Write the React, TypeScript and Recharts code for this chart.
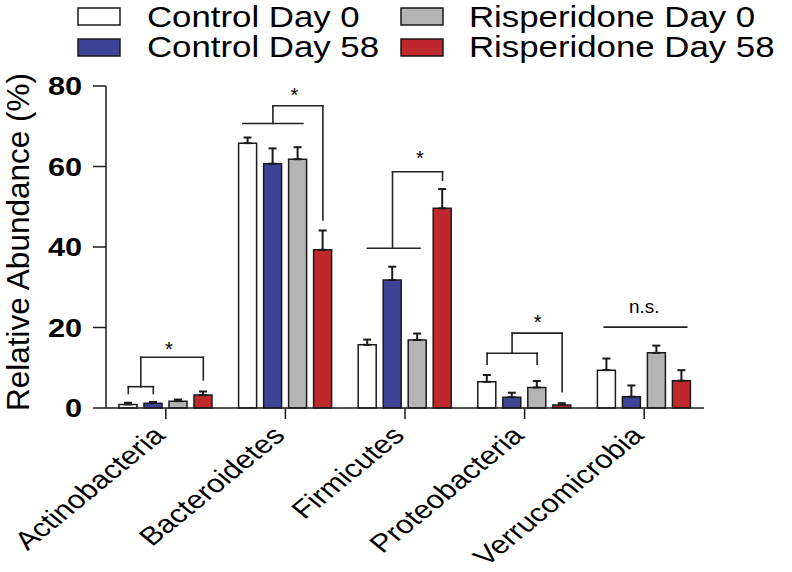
import React from 'react';
import { BarChart, Bar, XAxis, YAxis, ErrorBar, Legend, ReferenceLine, ReferenceDot, Label } from 'recharts';

const categories = ['Actinobacteria', 'Bacteroidetes', 'Firmicutes', 'Proteobacteria', 'Verrucomicrobia'];
const yTicks = [0, 20, 40, 60, 80];

const controlDay0 = [0.9, 65.8, 15.7, 6.5, 9.4];
const controlDay0Err = [0.4, 1.4, 1.3, 1.7, 2.9];
const controlDay58 = [1.2, 60.7, 31.8, 2.7, 2.8];
const controlDay58Err = [0.3, 3.8, 3.3, 1.1, 2.8];
const rispDay0 = [1.7, 61.8, 16.9, 5.1, 13.7];
const rispDay0Err = [0.4, 3.0, 1.6, 1.6, 1.8];
const rispDay58 = [3.2, 39.3, 49.6, 0.75, 6.8];
const rispDay58Err = [0.9, 4.8, 4.8, 0.45, 2.6];

// significance brackets: points are [bar position in group, value]
const brackets = [
    { cat: 0, path: [[0, 3.6], [0, 5.3], [1, 5.3], [1, 3.6]] },
    { cat: 0, path: [[0.5, 5.3], [0.5, 12.6], [3, 12.6], [3, 7.0]] },
    { cat: 1, path: [[-0.2, 70.7], [2.2, 70.7]] },
    { cat: 1, path: [[1, 70.7], [1, 75.1], [3, 75.1], [3, 46.7]] },
    { cat: 2, path: [[0, 39.7], [2.1, 39.7]] },
    { cat: 2, path: [[1, 39.7], [1, 58.7], [3, 58.7], [3, 56.6]] },
    { cat: 3, path: [[0, 10.9], [0, 13.6], [2, 13.6], [2, 10.9]] },
    { cat: 3, path: [[1, 13.6], [1, 18.6], [3, 18.6], [3, 4.05]] },
    { cat: 4, path: [[-0.1, 20.1], [3.2, 20.1]] },
];
const marks = [
    { cat: 0, pos: 1.62, y: 15.9, text: '*' },
    { cat: 1, pos: 1.86, y: 78.8, text: '*' },
    { cat: 2, pos: 2.1, y: 63.3, text: '*' },
    { cat: 3, pos: 2.02, y: 22.4, text: '*' },
    { cat: 4, pos: 1.5, y: 23.5, text: 'n.s.' },
];

const series = [
    { key: 'c0', name: 'Control Day 0', fill: '#ffffff' },
    { key: 'c58', name: 'Control Day 58', fill: '#3c4397' },
    { key: 'r0', name: 'Risperidone Day 0', fill: '#b4b4b4' },
    { key: 'r58', name: 'Risperidone Day 58', fill: '#c0292b' },
];

const data = categories.map((name, i) => ({
    name,
    c0: controlDay0[i], c0e: [0, controlDay0Err[i]],
    c58: controlDay58[i], c58e: [0, controlDay58Err[i]],
    r0: rispDay0[i], r0e: [0, rispDay0Err[i]],
    r58: rispDay58[i], r58e: [0, rispDay58Err[i]],
}));

const W = 792;
const H = 572;
const LEFT = 106;
const RIGHT = 88;
const BAR = 18;
const GAP = 7;
// pixel offset of a bar position from its category centre
const dx = (pos: number) => (pos - 1.5) * (BAR + GAP);

const FONT = '"Liberation Sans", Arial, sans-serif';
const STRETCH = 1.18;
const INK = '#1a1a1a';

const YTick = ({ x, y, payload }: any) => (
    <text transform={`translate(${x},${y}) scale(${STRETCH},1)`} textAnchor="end" dy="0.36em"
        fontFamily={FONT} fontWeight="bold" fontSize={26} fill="#000">
        {payload.value}
    </text>
);

const XTick = ({ x, y, payload }: any) => (
    <text transform={`translate(${x + 1},${y + 16}) scale(1.22,1) rotate(-45)`} textAnchor="end"
        fontFamily={FONT} fontSize={25.5} fill="#000">
        {payload.value}
    </text>
);

const LegendBox = () => {
    const cols = [[78, 147], [401, 469]];
    return (
        <svg width={W} height={70} style={{ display: 'block' }}>
            {series.map((s, i) => {
                const col = cols[Math.floor(i / 2)];
                const row = i % 2;
                return (
                    <g key={s.key}>
                        <rect x={col[0]} y={8 + row * 31} width={42} height={17} fill={s.fill} stroke={INK} strokeWidth={1.5} />
                        <text transform={`translate(${col[1]},${27 + row * 30}) scale(1.2,1)`} fontFamily={FONT} fontSize={29} fill="#000">
                            {s.name}
                        </text>
                    </g>
                );
            })}
        </svg>
    );
};

export default function App() {
    return (
        <div style={{ position: 'absolute', left: 0, top: 0, background: '#fff' }}>
            <BarChart width={W} height={H} data={data} margin={{ top: 16, right: RIGHT, left: 0, bottom: 0 }}
                barSize={BAR} barGap={GAP}>
                <Legend verticalAlign="top" content={() => <LegendBox />}
                    wrapperStyle={{ top: 0, left: 0, width: W, height: 70 }} />
                <XAxis dataKey="name" tick={<XTick />} tickSize={11} interval={0} height={164}
                    axisLine={{ stroke: INK, strokeWidth: 1.5 }} tickLine={{ stroke: INK, strokeWidth: 1.5 }} />
                <YAxis domain={[0, 80]} ticks={yTicks} width={LEFT} tickSize={13} tickMargin={11} tick={<YTick />}
                    axisLine={{ stroke: INK, strokeWidth: 1.5 }} tickLine={{ stroke: INK, strokeWidth: 1.5 }}>
                    <Label content={() => (
                        <text transform="translate(28.5,242) rotate(-90)" textAnchor="middle" fontFamily={FONT} fontSize={31.5} fill="#000">
                            Relative Abundance (%)
                        </text>
                    )} />
                </YAxis>
                {series.map((s) => (
                    <Bar key={s.key} dataKey={s.key} name={s.name} fill={s.fill} stroke={INK} strokeWidth={1.5} isAnimationActive={false}>
                        <ErrorBar dataKey={`${s.key}e`} width={4} strokeWidth={2} stroke={INK} direction="y" />
                    </Bar>
                ))}
                {brackets.flatMap((b, i) =>
                    b.path.slice(1).map((p, j) => {
                        const a = b.path[j];
                        return (
                            <ReferenceLine key={`b${i}-${j}`} ifOverflow="visible"
                                segment={[{ x: categories[b.cat], y: a[1] }, { x: categories[b.cat], y: p[1] }]}
                                shape={(l: any) => (
                                    <line x1={l.x1 + dx(a[0])} y1={l.y1} x2={l.x2 + dx(p[0])} y2={l.y2}
                                        stroke="#222" strokeWidth={1.6} strokeLinecap="square" />
                                )} />
                        );
                    })
                )}
                {marks.map((m, i) => (
                    <ReferenceDot key={`m${i}`} x={categories[m.cat]} y={m.y} ifOverflow="visible"
                        shape={(p: any) => m.text === '*'
                            ? <text x={p.cx + dx(m.pos)} y={p.cy + 11.5} textAnchor="middle" fontFamily={FONT} fontSize={20} fill="#000">*</text>
                            : <text x={p.cx + dx(m.pos)} y={p.cy} textAnchor="middle" fontFamily={FONT} fontSize={19} fill="#000">{m.text}</text>} />
                ))}
            </BarChart>
        </div>
    );
}
